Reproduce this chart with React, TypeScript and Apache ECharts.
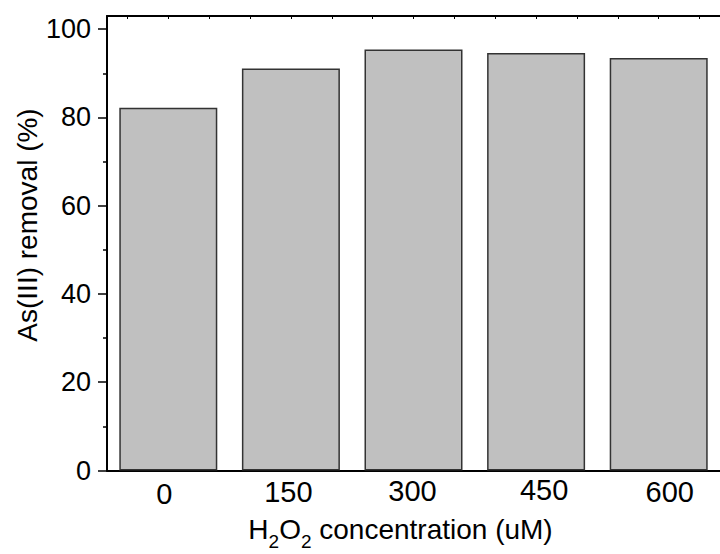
import React, { useEffect, useRef } from 'react';
import * as echarts from 'echarts';

// ---- data ----
const concentrations = [0, 150, 300, 450, 600];
const removal = [82.2, 91.1, 95.4, 94.6, 93.5];
const yTicks = [0, 20, 40, 60, 80, 100];
const yMinorTicks = [10, 30, 50, 70, 90];
const xMinorTicks = [-50, 0, 50, 100, 150, 200, 250, 300, 350, 400, 450, 500, 550, 600, 650];

const FONT = '"Liberation Sans", Arial, Helvetica, sans-serif';

// per-label nudges (the original labels are slightly offset)
const labelPad: Record<number, number[]> = {
  0: [9, 8, 0, 0],
  150: [6, 5, 0, 0],
  300: [4, 2, 0, 0],
  450: [1, 0, 0, 16],
  600: [5, 0, 0, 22],
};

export default function App() {
  const ref = useRef<HTMLDivElement>(null);
  useEffect(() => {
    if (!ref.current) return;
    const chart = echarts.init(ref.current, undefined, { renderer: 'svg' });
    const rich: Record<string, any> = {};
    concentrations.forEach((c) => {
      rich['l' + c] = {
        fontSize: 29,
        fontFamily: FONT,
        color: '#000',
        lineHeight: 29,
        padding: labelPad[c] || [0, 0, 0, 0],
      };
    });
    const axisLine = { show: true, onZero: false, lineStyle: { color: '#000', width: 2 } };
    chart.setOption({
      animation: false,
      backgroundColor: '#fff',
      grid: { left: 107, top: 16, right: -5, bottom: 83.5, containLabel: false },
      xAxis: [
        {
          type: 'value',
          position: 'bottom',
          min: -75,
          max: 675,
          axisLine,
          axisTick: { show: true, inside: true, length: 2, customValues: xMinorTicks, lineStyle: { color: '#000', width: 1 } },
          axisLabel: {
            show: true,
            customValues: concentrations,
            margin: 4,
            fontSize: 29,
            fontFamily: FONT,
            color: '#000',
            formatter: (v: number) => `{l${v}|${v}}`,
            rich,
          },
          splitLine: { show: false },
        },
        {
          type: 'value',
          position: 'top',
          min: -75,
          max: 675,
          axisLine,
          axisTick: { show: true, inside: true, length: 3, customValues: xMinorTicks, lineStyle: { color: '#000', width: 1 } },
          axisLabel: { show: false },
          splitLine: { show: false },
        },
      ],
      yAxis: [
        {
          type: 'value',
          position: 'left',
          min: 0,
          max: 103,
          axisLine,
          axisTick: { show: true, inside: false, length: 9, customValues: yTicks, lineStyle: { color: '#000', width: 1.5 } },
          axisLabel: { show: true, customValues: yTicks, margin: 16, fontSize: 27, fontFamily: FONT, color: '#000' },
          splitLine: { show: false },
        },
        {
          type: 'value',
          position: 'left',
          offset: 0,
          min: 0,
          max: 103,
          axisLine: { show: false, onZero: false },
          axisTick: { show: true, inside: false, length: 4, customValues: yMinorTicks, lineStyle: { color: '#000', width: 1.5 } },
          axisLabel: { show: false },
          splitLine: { show: false },
        },
      ],
      series: [
        {
          type: 'bar',
          xAxisIndex: 0,
          yAxisIndex: 0,
          barWidth: 98,
          data: concentrations.map((c, i) => [c, removal[i]]),
          itemStyle: { color: '#c0c0c0', borderColor: '#333', borderWidth: 1.5 },
        },
      ],
      graphic: [
        {
          type: 'text',
          x: 27,
          y: 225,
          rotation: Math.PI / 2,
          style: {
            text: 'As(III) removal (%)',
            fontSize: 28,
            fontFamily: FONT,
            fill: '#000',
            align: 'center',
            verticalAlign: 'middle',
          },
        },
        {
          type: 'text',
          x: 400.5,
          y: 515,
          style: {
            text: '{m|H}{s|2}{m|O}{s|2}{m| concentration (uM)}',
            align: 'center',
            verticalAlign: 'top',
            fill: '#000',
            rich: {
              m: { fontSize: 28, fontFamily: FONT, fill: '#000', lineHeight: 28, verticalAlign: 'top' },
              s: { fontSize: 19, fontFamily: FONT, fill: '#000', lineHeight: 19, verticalAlign: 'top', padding: [17, 0, 0, 0] },
            },
          },
        },
      ],
    });
    return () => chart.dispose();
  }, []);
  return (
    <div
      ref={ref}
      style={{ position: 'fixed', left: 0, top: 0, width: 720, height: 554, overflow: 'hidden', background: '#fff' }}
    />
  );
}
